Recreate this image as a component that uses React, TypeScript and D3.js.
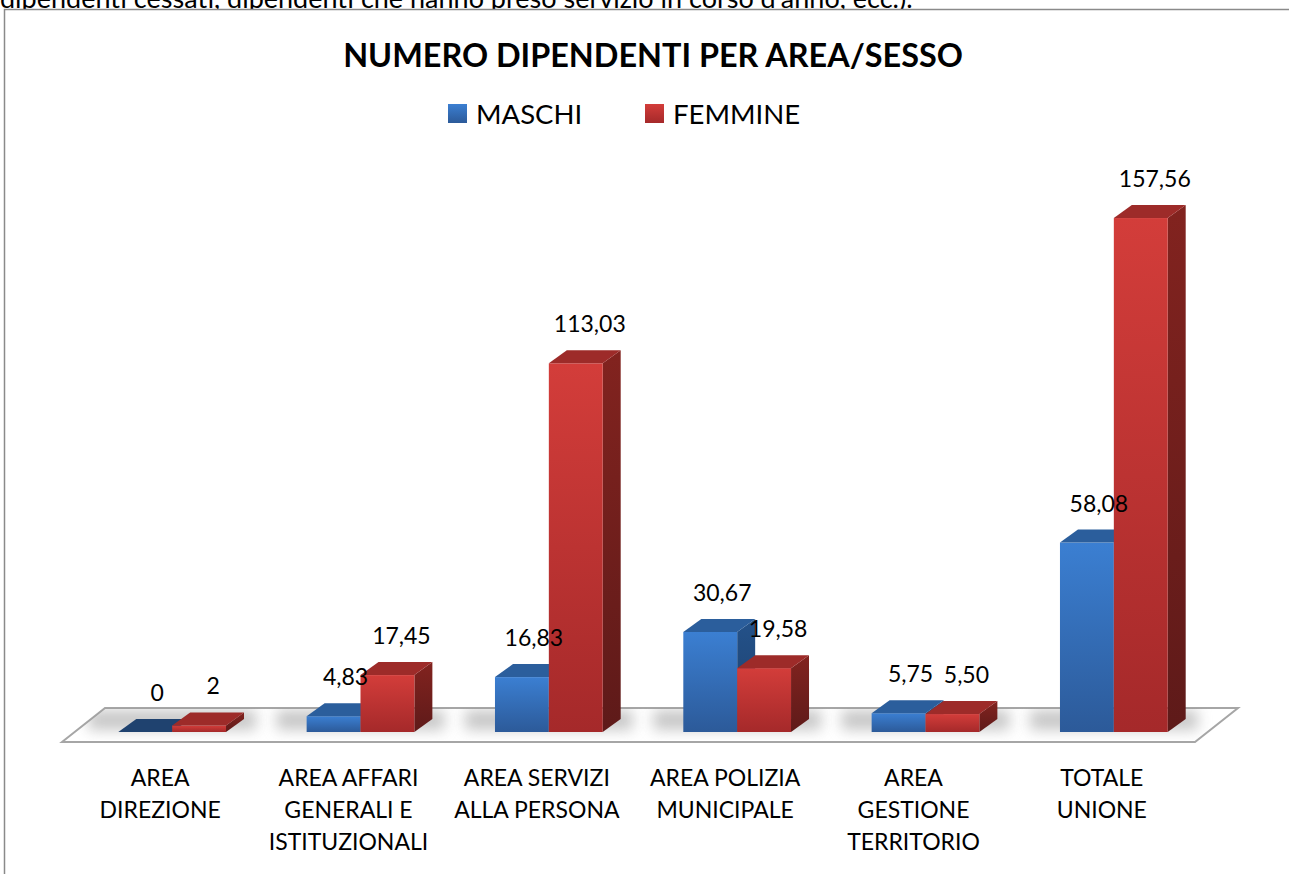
import React from 'react';
import * as d3 from 'd3';

const categories: string[][] = [
  ['AREA', 'DIREZIONE'],
  ['AREA AFFARI', 'GENERALI E', 'ISTITUZIONALI'],
  ['AREA SERVIZI', 'ALLA PERSONA'],
  ['AREA POLIZIA', 'MUNICIPALE'],
  ['AREA', 'GESTIONE', 'TERRITORIO'],
  ['TOTALE', 'UNIONE'],
];
const maschi = [0, 4.83, 16.83, 30.67, 5.75, 58.08];
const femmine = [2, 17.45, 113.03, 19.58, 5.5, 157.56];
const maschiLabels = ['0', '4,83', '16,83', '30,67', '5,75', '58,08'];
const femmineLabels = ['2', '17,45', '113,03', '19,58', '5,50', '157,56'];
const seriesNames = ['MASCHI', 'FEMMINE'];

const W = 1289;
const H = 874;
const FONT = 'Lato, "Open Sans", sans-serif';

// depth of the 3d bars
const DX = 18;
const DY = 13;

const palette = [
  { top: '#2b5e9c', frontA: '#3b7fd2', frontB: '#2c5a99', sideA: '#24528a', sideB: '#1c3f6c', flat: '#1f426f' },
  { top: '#9d2b29', frontA: '#d33d3a', frontB: '#a5292a', sideA: '#82231f', sideB: '#5e1a19', flat: '#a32826' },
];

const App: React.FC = () => {
  const x = d3.scaleBand<number>()
    .domain(d3.range(categories.length))
    .range([78, 1208]);
  const y = d3.scaleLinear().domain([0, 160]).range([732, 732 - 160 * 3.262]);
  const step = x.step();
  const bw = step * 0.286;
  const base = y(0);

  const [x0, x1] = x.range();
  const floor = [
    [x0 - 16, base + 10],
    [x0 + 27, base - 24],
    [x1 + 30, base - 24],
    [x1 - 13, base + 10],
  ];
  const floorPts = floor.map((d) => d.join(',')).join(' ');

  const bar = (s: number, i: number, v: number) => {
    const left = x(i)! + step / 2 - bw + s * bw;
    const right = left + bw;
    const top = y(v);
    const p = palette[s];
    const flat = base - top < 1;
    return (
      <g key={`${s}-${i}`}>
        {!flat && (
          <polygon
            points={`${right},${top} ${right + DX},${top - DY} ${right + DX},${base - DY} ${right},${base}`}
            fill={`url(#side${s})`}
          />
        )}
        {!flat && <rect x={left} y={top} width={bw} height={base - top} fill={`url(#front${s})`} />}
        <polygon
          points={`${left},${top} ${left + DX},${top - DY} ${right + DX},${top - DY} ${right},${top}`}
          fill={flat ? p.flat : p.top}
        />
      </g>
    );
  };

  return (
    <svg width={W} height={H} style={{ position: 'absolute', left: 0, top: 0, background: '#fff' }}>
      <defs>
        {palette.map((p, s) => (
          <React.Fragment key={s}>
            <linearGradient id={`front${s}`} x1="0" y1="0" x2="0" y2="1">
              <stop offset="0%" stopColor={p.frontA} />
              <stop offset="100%" stopColor={p.frontB} />
            </linearGradient>
            <linearGradient id={`side${s}`} x1="0" y1="0" x2="0" y2="1">
              <stop offset="0%" stopColor={p.sideA} />
              <stop offset="100%" stopColor={p.sideB} />
            </linearGradient>
          </React.Fragment>
        ))}
        <filter id="blur" x="-50%" y="-50%" width="200%" height="200%">
          <feGaussianBlur stdDeviation="7" />
        </filter>
        <clipPath id="floorClip">
          <polygon points={floorPts} />
        </clipPath>
      </defs>

      {/* tail of the document paragraph above the chart, cut by the page edge */}
      <text x={0} y={8} fontFamily={FONT} fontSize={27} fill="#000">
        dipendenti cessati, dipendenti che hanno preso servizio in corso d'anno, ecc.).
      </text>

      <rect x={4.5} y={9.5} width={W} height={H} fill="#fff" stroke="#8a8a8a" strokeWidth={1.5} />

      <text x={653} y={67} textAnchor="middle" fontFamily={FONT} fontWeight="bold" fontSize={32.4} fill="#000">
        NUMERO DIPENDENTI PER AREA/SESSO
      </text>

      {seriesNames.map((name, s) => (
        <g key={name} transform={`translate(${448 + s * 197},104)`}>
          <rect width={19} height={19} fill={`url(#front${s})`} />
          <text x={28} y={20} fontFamily={FONT} fontSize={27.5} fill="#000">{name}</text>
        </g>
      ))}

      <polygon points={floorPts} fill="#fff" stroke="#a6a6a6" strokeWidth={2} />
      <g clipPath="url(#floorClip)">
        {categories.map((_, i) => (
          <rect
            key={i}
            x={x(i)! + step / 2 - bw - 30}
            y={base - 22}
            width={bw * 2 + 60}
            height={20}
            fill="#9a9a9a"
            opacity={0.55}
            filter="url(#blur)"
          />
        ))}
      </g>

      {categories.map((_, i) => (
        <g key={i}>
          {bar(0, i, maschi[i])}
          {bar(1, i, femmine[i])}
        </g>
      ))}

      {categories.map((_, i) => (
        <g key={`l${i}`} fontFamily={FONT} fontSize={23} fill="#000" textAnchor="middle">
          <text x={x(i)! + step / 2 - bw / 2 + 12} y={y(maschi[i]) - 31}>{maschiLabels[i]}</text>
          <text x={x(i)! + step / 2 + bw / 2 + 14} y={y(femmine[i]) - 31}>{femmineLabels[i]}</text>
        </g>
      ))}

      {categories.map((lines, i) => (
        <text
          key={`c${i}`}
          x={x(i)! + step / 2 - 12}
          y={786}
          textAnchor="middle"
          fontFamily={FONT}
          fontSize={23}
          fill="#000"
        >
          {lines.map((t, k) => (
            <tspan key={k} x={x(i)! + step / 2 - 12} dy={k === 0 ? 0 : 32}>{t}</tspan>
          ))}
        </text>
      ))}
    </svg>
  );
};

export default App;
